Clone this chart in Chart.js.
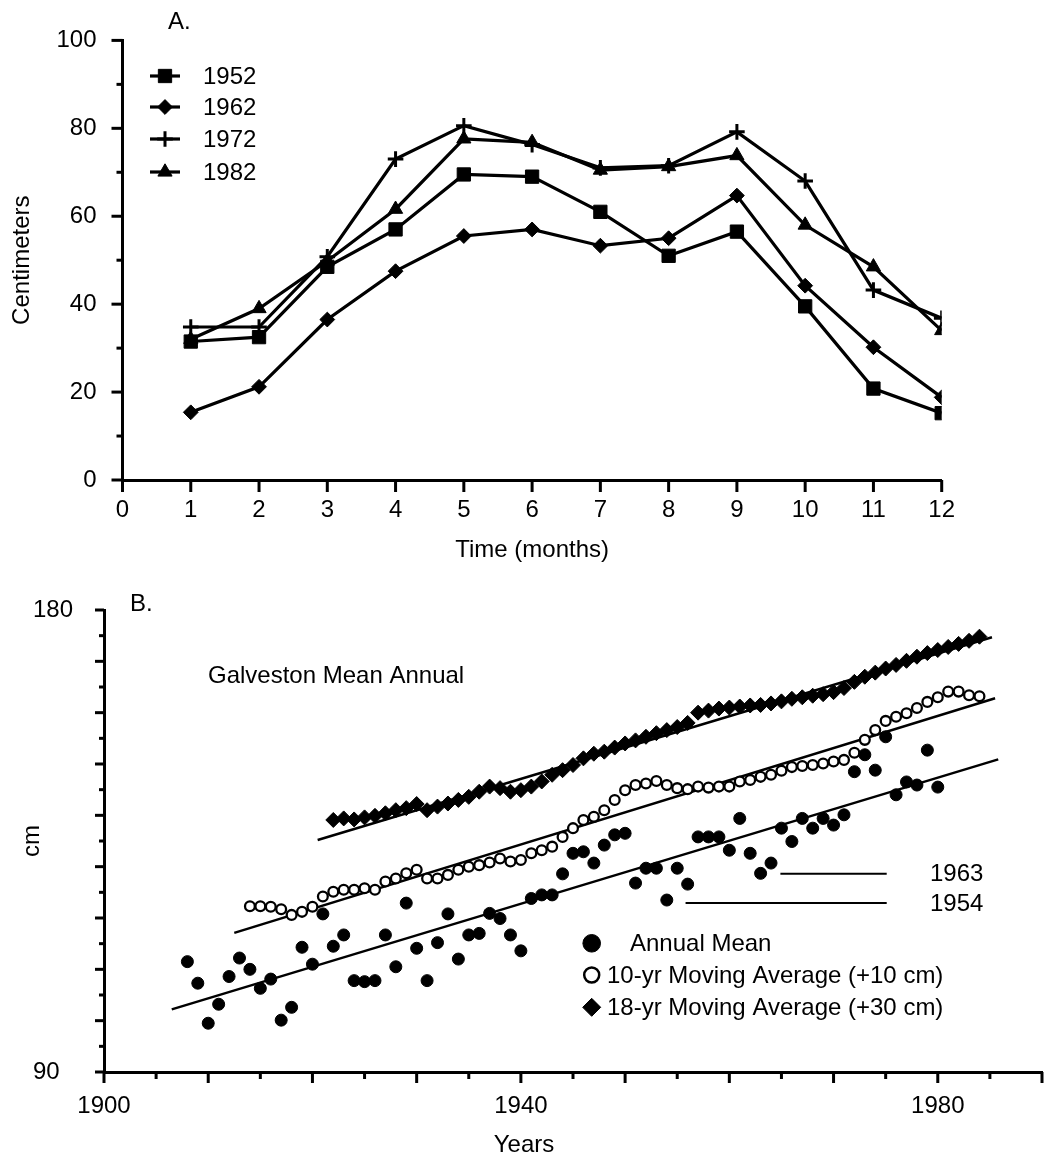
<!DOCTYPE html>
<html><head><meta charset="utf-8">
<script src="https://cdn.jsdelivr.net/npm/chart.js@4/dist/chart.umd.min.js"></script>
<style>
html,body{margin:0;padding:0;background:#fff;}
#wrap{position:relative;width:1062px;height:1158px;background:#fff;}
canvas{position:absolute;left:0;}
#cA{top:0;} #cB{top:580px;}
</style></head><body>
<div id="wrap"><canvas id="cA" width="1062" height="580"></canvas><canvas id="cB" width="1062" height="578"></canvas></div>
<script>
const FONT = "'Liberation Sans', Arial, Helvetica, sans-serif";

// ---------- Panel A data ----------
const months = [1,2,3,4,5,6,7,8,9,10,11,12];
const yearLabelsA = ['1952','1962','1972','1982'];
const series1952 = [31.5, 32.5, 48.5, 57, 69.5, 69, 61, 51, 56.5, 39.5, 20.8, 15.2];
const series1962 = [15.4, 21.2, 36.5, 47.5, 55.5, 57, 53.3, 55, 64.7, 44.2, 30.2, 18.8];
const series1972 = [34.8, 34.8, 50.8, 73, 80.6, 76.3, 71, 71.5, 79.2, 68, 43.2, 36.8];
const series1982 = [32, 39, 49.8, 61.6, 77.6, 76.8, 70.5, 71.3, 73.8, 58, 48.5, 34];

// ---------- Panel B data ----------
const annualYears = [1908,1909,1910,1911,1912,1913,1914,1915,1916,1917,1918,1919,1920,1921,1922,1923,1924,1925,1926,1927,1928,1929,1930,1931,1932,1933,1934,1935,1936,1937,1938,1939,1940,1941,1942,1943,1944,1945,1946,1947,1948,1949,1950,1951,1952,1953,1954,1955,1956,1957,1958,1959,1960,1961,1962,1963,1964,1965,1966,1967,1968,1969,1970,1971,1972,1973,1974,1975,1976,1977,1978,1979,1980];
const annualMean = [111.5,107.3,99.5,103.2,108.6,112.2,110.0,106.3,108.1,100.1,102.6,114.3,111.0,120.8,114.5,116.7,107.8,107.6,107.8,116.7,110.5,122.9,114.1,107.8,115.2,120.8,112.0,116.7,117.0,120.9,119.9,116.7,113.6,123.8,124.5,124.5,128.6,132.6,132.9,130.7,134.2,136.2,136.5,126.8,129.7,129.7,123.5,129.7,126.6,135.8,135.8,135.8,133.2,139.4,132.6,128.7,130.7,137.5,134.9,139.4,137.5,139.4,138.1,140.1,148.5,151.8,148.8,155.3,144.0,146.5,145.9,152.7,145.5];

const ma10Years = [1914,1915,1916,1917,1918,1919,1920,1921,1922,1923,1924,1925,1926,1927,1928,1929,1930,1931,1932,1933,1934,1935,1936,1937,1938,1939,1940,1941,1942,1943,1944,1945,1946,1947,1948,1949,1950,1951,1952,1953,1954,1955,1956,1957,1958,1959,1960,1961,1962,1963,1964,1965,1966,1967,1968,1969,1970,1971,1972,1973,1974,1975,1976,1977,1978,1979,1980,1981,1982,1983,1984];
const ma10Plus10 = [122.3,122.3,122.2,121.7,120.6,121.2,122.2,124.2,125.1,125.5,125.5,125.8,125.5,127.1,127.7,128.7,129.4,127.7,127.7,128.4,129.4,130.0,130.3,130.8,131.6,131.0,131.3,132.6,133.2,133.9,135.8,137.5,139.1,139.7,141.0,143.0,144.9,145.9,146.2,146.7,145.9,145.3,145.1,145.6,145.4,145.6,145.6,146.6,146.9,147.5,147.9,148.7,149.4,149.6,149.8,150.1,150.5,150.8,152.2,154.7,156.6,158.4,159.2,159.9,160.9,162.1,163.0,164.1,164.1,163.4,163.2];

const ma18Years = [1922,1923,1924,1925,1926,1927,1928,1929,1930,1931,1932,1933,1934,1935,1936,1937,1938,1939,1940,1941,1942,1943,1944,1945,1946,1947,1948,1949,1950,1951,1952,1953,1954,1955,1956,1957,1958,1959,1960,1961,1962,1963,1964,1965,1966,1967,1968,1969,1970,1971,1972,1973,1974,1975,1976,1977,1978,1979,1980,1981,1982,1983,1984];
const ma18Plus30 = [139.1,139.4,139.2,139.6,139.9,140.4,141.0,141.4,142.2,141.0,141.7,142.3,143.0,143.6,144.6,145.6,145.3,144.6,144.9,145.6,146.6,147.9,148.8,149.8,151.1,152.0,152.4,153.2,154.0,154.6,155.3,156.0,156.6,157.2,158.0,160.0,160.4,160.8,161.0,161.2,161.4,161.5,161.8,162.2,162.7,163.0,163.3,163.6,164.0,164.8,166.0,167.0,167.8,168.6,169.3,170.1,170.9,171.6,172.2,172.8,173.4,174.0,174.8];

const trendAnnualX = [1906.5, 1985.8];
const trendAnnualY = [102.2, 150.9];
const trendMa10X = [1912.5, 1985.5];
const trendMa10Y = [117.1, 162.8];
const trendMa18X = [1920.5, 1985.2];
const trendMa18Y = [135.2, 174.7];

const yearTickLabels = [1900, 1940, 1980];
const cmTickLabels = [90, 180];
const legendB = ['Annual Mean', '10-yr Moving Average (+10 cm)', '18-yr Moving Average (+30 cm)'];
const noteYears = ['1963', '1954'];
const noteValues = [128.6, 122.9];

// ---------- helpers ----------
const pts = (xs, ys) => xs.map((x, i) => ({x: x, y: ys[i]}));
const range = (a, b, s) => { const r = []; for (let v = a; v <= b + 1e-9; v += s) r.push(+v.toFixed(4)); return r; };

function tickPlugin(id, defs) {
  return {
    id: id,
    afterDraw(chart) {
      const ctx = chart.ctx, ca = chart.chartArea;
      const xs = chart.scales.x, ys = chart.scales.y;
      ctx.save();
      ctx.strokeStyle = '#000';
      ctx.lineWidth = 3;
      ctx.lineCap = 'butt';
      defs.x.forEach(t => {
        const px = xs.getPixelForValue(t.v);
        ctx.beginPath(); ctx.moveTo(px, ca.bottom); ctx.lineTo(px, ca.bottom + t.len); ctx.stroke();
      });
      defs.y.forEach(t => {
        const py = ys.getPixelForValue(t.v);
        ctx.beginPath(); ctx.moveTo(ca.left, py); ctx.lineTo(ca.left - t.len, py); ctx.stroke();
      });
      ctx.restore();
    }
  };
}

// ---------- Panel A ----------
const stylesA = [
  {pointStyle: 'rect', pointRadius: 9.4, pointBorderWidth: 1},
  {pointStyle: 'rectRot', pointRadius: 7.4, pointBorderWidth: 1},
  {pointStyle: 'cross', pointRadius: 7.8, pointBorderWidth: 3},
  {pointStyle: 'triangle', pointRadius: 8.2, pointBorderWidth: 1}
];
const seriesA = [series1952, series1962, series1972, series1982];
const datasetsA = seriesA.map((s, i) => Object.assign({
  label: yearLabelsA[i],
  data: pts(months, s),
  showLine: true,
  borderColor: '#000',
  borderWidth: 3.2,
  backgroundColor: '#000',
  pointBackgroundColor: '#000',
  pointBorderColor: '#000',
  tension: 0
}, stylesA[i]));

const ticksA = {
  x: range(0, 12, 1).map(v => ({v: v, len: 12})),
  y: range(0, 100, 10).map(v => ({v: v, len: (v % 20 === 0) ? 11 : 6}))
};

const textA = {
  id: 'textA',
  afterDraw(chart) {
    const ctx = chart.ctx;
    ctx.save();
    ctx.fillStyle = '#000';
    ctx.font = '24px ' + FONT;
    ctx.textBaseline = 'middle';
    ctx.textAlign = 'left';
    ctx.fillText('A.', 168, 22);
    const rows = [76, 107, 139, 172];
    rows.forEach((ry, i) => {
      ctx.strokeStyle = '#000';
      ctx.lineWidth = 3.2;
      ctx.beginPath(); ctx.moveTo(150, ry); ctx.lineTo(180, ry); ctx.stroke();
      const st = stylesA[i];
      ctx.fillStyle = '#000';
      ctx.lineWidth = st.pointBorderWidth;
      Chart.helpers.drawPoint(ctx, {pointStyle: st.pointStyle, radius: st.pointRadius, rotation: 0, borderWidth: st.pointBorderWidth}, 165, ry);
      ctx.fillStyle = '#000';
      ctx.fillText(yearLabelsA[i], 203, ry + 1);
    });
    ctx.restore();
  }
};

new Chart(document.getElementById('cA'), {
  type: 'scatter',
  data: {datasets: datasetsA},
  options: {
    responsive: false, animation: false, devicePixelRatio: 1,
    layout: {padding: {top: 25, right: 120.3, left: 0, bottom: 0}},
    plugins: {legend: {display: false}, tooltip: {enabled: false}},
    scales: {
      x: {
        type: 'linear', min: 0, max: 12,
        grid: {display: false, drawTicks: false},
        border: {display: true, color: '#000', width: 3},
        ticks: {stepSize: 1, color: '#000', font: {family: FONT, size: 24}, padding: 16, autoSkip: false, maxRotation: 0},
        title: {display: true, text: 'Time (months)', color: '#000', font: {family: FONT, size: 24}, padding: {top: 0, bottom: 15.6}},
        afterFit(s) { s.height = 100; }
      },
      y: {
        type: 'linear', min: 0, max: 100,
        grid: {display: false, drawTicks: false},
        border: {display: true, color: '#000', width: 3},
        ticks: {stepSize: 20, color: '#000', font: {family: FONT, size: 24}, padding: 26},
        title: {display: true, text: 'Centimeters', color: '#000', font: {family: FONT, size: 24}, padding: {top: 8, bottom: 0}},
        afterFit(s) { s.width = 122.5; }
      }
    }
  },
  plugins: [tickPlugin('ticksA', ticksA), textA]
});

// ---------- Panel B ----------
const ticksB = {
  x: range(1900, 1990, 5).map(v => ({v: v, len: (v % 10 === 0) ? 11 : 7})),
  y: range(90, 180, 5).map(v => ({v: v, len: (v % 10 === 0) ? 9 : 5}))
};

const textB = {
  id: 'textB',
  afterDraw(chart) {
    const ctx = chart.ctx;
    const xs = chart.scales.x, ys = chart.scales.y;
    ctx.save();
    ctx.fillStyle = '#000';
    ctx.strokeStyle = '#000';
    ctx.font = '24px ' + FONT;
    ctx.textBaseline = 'middle';
    ctx.textAlign = 'left';
    ctx.fillText('B.', 130, 24);
    ctx.fillText('Galveston Mean Annual', 208, 96);
    // notes 1963 / 1954
    const noteStart = [1964.9, 1955.8];
    noteYears.forEach((lab, i) => {
      const py = ys.getPixelForValue(noteValues[i]);
      ctx.lineWidth = 2;
      ctx.beginPath();
      ctx.moveTo(xs.getPixelForValue(noteStart[i]), py);
      ctx.lineTo(xs.getPixelForValue(1975.1), py);
      ctx.stroke();
      ctx.fillText(lab, 930, py + 1);
    });
    // legend
    const ly = [363.3, 395, 427.3];
    const lx = 591.7;
    ctx.fillStyle = '#000';
    ctx.lineWidth = 1;
    Chart.helpers.drawPoint(ctx, {pointStyle: 'circle', radius: 8.8, rotation: 0, borderWidth: 1}, lx, ly[0]);
    ctx.fillStyle = '#fff';
    ctx.lineWidth = 2.5;
    Chart.helpers.drawPoint(ctx, {pointStyle: 'circle', radius: 7.5, rotation: 0, borderWidth: 2.5}, lx, ly[1]);
    ctx.fillStyle = '#000';
    ctx.lineWidth = 1;
    Chart.helpers.drawPoint(ctx, {pointStyle: 'rectRot', radius: 9, rotation: 0, borderWidth: 1}, lx, ly[2]);
    ctx.fillStyle = '#000';
    ctx.fillText(legendB[0], 630, ly[0] + 1);
    ctx.fillText(legendB[1], 607, ly[1] + 1);
    ctx.fillText(legendB[2], 607, ly[2] + 1);
    // x-axis title centred under 1940
    ctx.textAlign = 'center';
    ctx.fillText('Years', xs.getPixelForValue(1940.3), 565);
    ctx.restore();
  }
};

const lineDs = (xsArr, ysArr) => ({
  data: pts(xsArr, ysArr), showLine: true, borderColor: '#000', borderWidth: 2.5,
  pointRadius: 0, tension: 0, order: 10
});

new Chart(document.getElementById('cB'), {
  type: 'scatter',
  data: {datasets: [
    {label: 'annual', data: pts(annualYears, annualMean), pointStyle: 'circle', pointRadius: 6,
     pointBackgroundColor: '#000', pointBorderColor: '#000', pointBorderWidth: 1, order: 1},
    {label: 'ma10', data: pts(ma10Years, ma10Plus10), pointStyle: 'circle', pointRadius: 4.9,
     pointBackgroundColor: '#fff', pointBorderColor: '#000', pointBorderWidth: 2.3, order: 2},
    {label: 'ma18', data: pts(ma18Years, ma18Plus30), pointStyle: 'rectRot', pointRadius: 7.5,
     pointBackgroundColor: '#000', pointBorderColor: '#000', pointBorderWidth: 1, order: 3},
    lineDs(trendAnnualX, trendAnnualY),
    lineDs(trendMa10X, trendMa10Y),
    lineDs(trendMa18X, trendMa18Y)
  ]},
  options: {
    responsive: false, animation: false, devicePixelRatio: 1,
    layout: {padding: {top: 30, right: 0, left: 33, bottom: 0}},
    plugins: {legend: {display: false}, tooltip: {enabled: false}},
    scales: {
      x: {
        type: 'linear', min: 1900, max: 1990,
        grid: {display: false, drawTicks: false},
        border: {display: true, color: '#000', width: 3},
        ticks: {stepSize: 5, color: '#000', font: {family: FONT, size: 24}, padding: 20, autoSkip: false, maxRotation: 0,
                callback: v => yearTickLabels.includes(v) ? String(v) : ''},
        afterFit(s) { s.height = 86; }
      },
      y: {
        type: 'linear', min: 90, max: 180,
        grid: {display: false, drawTicks: false},
        border: {display: true, color: '#000', width: 3},
        ticks: {stepSize: 10, color: '#000', font: {family: FONT, size: 24}, crossAlign: 'far',
                callback: v => cmTickLabels.includes(v) ? String(v) : ''},
        title: {display: true, text: 'cm', color: '#000', font: {family: FONT, size: 24}, padding: {top: -15.4, bottom: 0}},
        afterFit(s) { s.width = 71; }
      }
    }
  },
  plugins: [tickPlugin('ticksB', ticksB), textB]
});
</script>
</body></html>
